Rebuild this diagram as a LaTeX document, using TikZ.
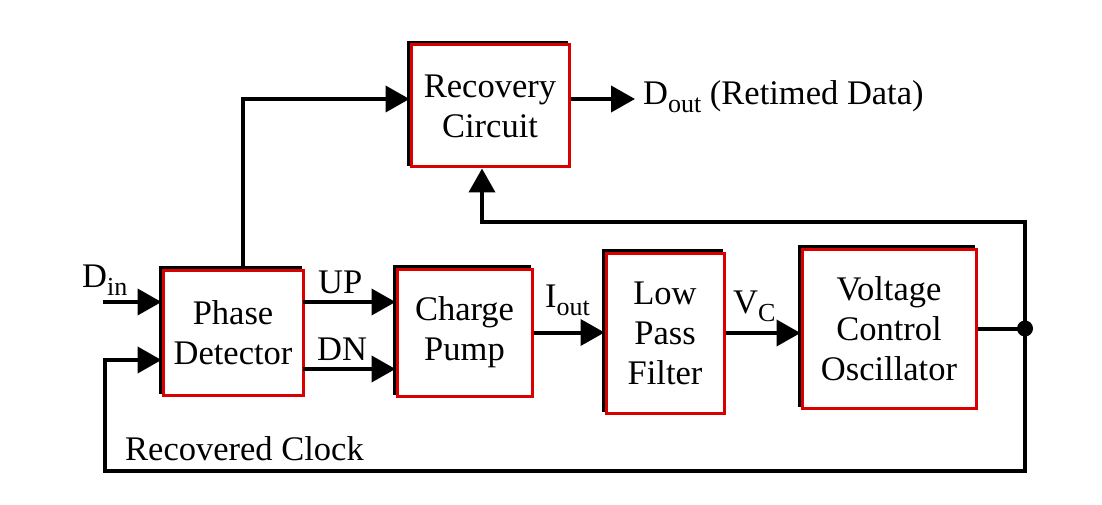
\documentclass[tikz,border=0pt]{standalone}
\usepackage{fontspec}
\setmainfont{Liberation Serif}
\usetikzlibrary{positioning,arrows.meta}
\tikzset{
  block/.style={draw=red!85!black, line width=3pt, fill=white, align=center,
    inner sep=0pt, font=\fontsize{34.5}{40}\selectfont,
    preaction={draw=black, line width=3pt, transform canvas={shift={(-2.5pt,2.5pt)}}}},
  lbl/.style={font=\fontsize{34.5}{40}\selectfont, inner sep=0pt, anchor=base west},
  wire/.style={line width=4pt},
  sig/.style={wire, -{Triangle[length=24pt,width=26pt]}},
}
\newcommand{\sg}[2]{\draw[sig] (#1) -- (#2);}
\newcommand{\sub}[1]{\raisebox{-8pt}{\fontsize{26}{26}\selectfont #1}}

\begin{document}
\begin{tikzpicture}[x=1pt, y=-1pt]
  \useasboundingbox (0,0) rectangle (1102,505);

  % blocks
  \node[block, minimum width=140pt, minimum height=125pt] (pd)  at (233,332.5) {Phase\\Detector};
  \node[block, minimum width=135pt, minimum height=127pt] (cp)  at (464.5,332.5) {Charge\\Pump};
  \node[block, minimum width=118pt, minimum height=160pt] (lpf) at (665,333) {Low\\Pass\\Filter};
  \node[block, minimum width=174pt, minimum height=159pt] (vco) at (889,328.5) {Voltage\\Control\\Oscillator};
  \node[block, minimum width=158pt, minimum height=122pt] (rc)  at (490,106) {Recovery\\Circuit};

  % labels
  \node[lbl] (dinlbl)  at (82,287)  {D\sub{in}};
  \node[lbl] (uplbl)   at (318,293) {UP};
  \node[lbl] (dnlbl)   at (317,360) {DN};
  \node[lbl] (ioutlbl) at (545,307) {I\sub{out}};
  \node[lbl] (vclbl)   at (733,313) {V\sub{C}};
  \node[lbl] (doutlbl) at (643,105) {D\sub{out} (Retimed Data)};
  \node[lbl] (clklbl)  at (125,460) {Recovered Clock};

  % wire points
  \coordinate (din)   at (103,302);
  \coordinate (up)    at (303,302);
  \coordinate (dn)    at (303,369);
  \coordinate (rcin)  at (243,99);
  \coordinate (dout)  at (635,99);
  \coordinate (dot)   at (1025,328.5);
  \coordinate (fbtop) at (482,222);
  \coordinate (fbbot) at (105,471);
  \coordinate (clkin) at (105,360);

  % forward path
  \sg{din}{din -| pd.west}
  \sg{up}{up -| cp.west}
  \sg{dn}{dn -| cp.west}
  \sg{cp.east}{cp.east -| lpf.west}
  \sg{lpf.east}{lpf.east -| vco.west}
  \draw[wire] (vco.east) -- (dot);
  \fill (dot) circle (8pt);

  % data path
  \draw[sig] (pd.north -| rcin) -- (rcin) -- (rcin -| rc.west);
  \sg{rc.east |- rcin}{dout}

  % clock feedback
  \draw[sig] (dot) |- (fbtop) -- (fbtop |- rc.south);
  \draw[sig] (dot) |- (fbbot) -- (clkin) -- (clkin -| pd.west);
\end{tikzpicture}
\end{document}
